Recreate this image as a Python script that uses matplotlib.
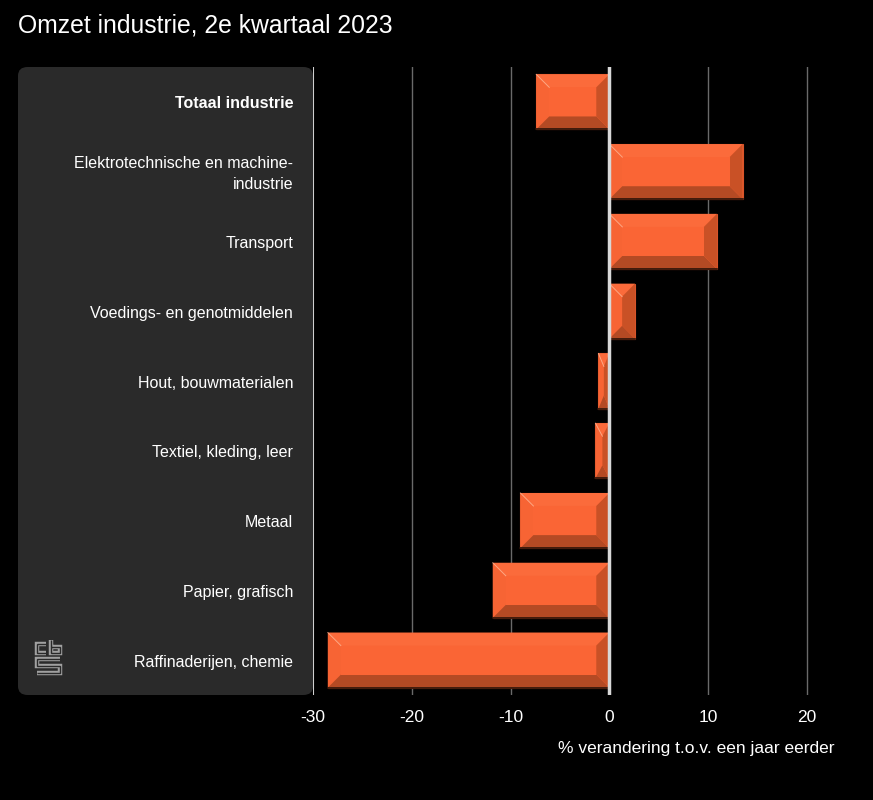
import matplotlib.pyplot as plt
from matplotlib.patches import FancyBboxPatch, Polygon
from matplotlib.lines import Line2D
import matplotlib.transforms as mtransforms

plt.rcParams['font.family'] = ['Liberation Sans', 'DejaVu Sans']

# data
categories = [
    'Totaal industrie',
    'Elektrotechnische en machine-\nindustrie',
    'Transport',
    'Voedings- en genotmiddelen',
    'Hout, bouwmaterialen',
    'Textiel, kleding, leer',
    'Metaal',
    'Papier, grafisch',
    'Raffinaderijen, chemie',
]
values = [-7.4, 13.5, 10.9, 2.6, -1.1, -1.4, -9.0, -11.8, -28.5]
ticks = [-30, -20, -10, 0, 10, 20]

W, H = 873, 800
fig = plt.figure(figsize=(W / 100, H / 100), dpi=100, facecolor='black')

# label panel on the left
panel = FancyBboxPatch((18 / W, 105 / H), (313 - 18) / W, (695 - 67) / H,
                       boxstyle='round,pad=0,rounding_size=0.011',
                       transform=fig.transFigure, facecolor='#2a2a2a',
                       edgecolor='none', zorder=-5)
fig.patches.append(panel)

ax = fig.add_axes([313 / W, 105 / H, 560 / W, 628 / H])
ax.set_zorder(2)
ax.set_facecolor('none')
ax.set_xlim(-30, 26.7)
ax.set_ylim(len(values) - 0.5, -0.5)
for s in ax.spines.values():
    s.set_visible(False)

for t in ticks:
    if t == -30:
        ax.axvline(t, color='#cfcfcf', lw=1.5, zorder=1)
    elif t != 0:
        ax.axvline(t, color='#6a6a6a', lw=1, zorder=1)

ax.set_xticks(ticks)
ax.set_xticklabels([str(t) for t in ticks])
ax.tick_params(axis='x', length=0, colors='white', labelsize=12.5, pad=11)
ax.set_yticks([])

fig.text(18 / W, 1 - 25 / H, 'Omzet industrie, 2e kwartaal 2023', color='white',
         fontsize=17.8, va='center', ha='left')
fig.text(835 / W, 1 - 748 / H, '% verandering t.o.v. een jaar eerder', color='white',
         fontsize=12.5, va='center', ha='right')

# labels, nudged 2 px down
lab_tr = ax.transData + mtransforms.ScaledTranslation(0, -2 / 100, fig.dpi_scale_trans)
for i, lab in enumerate(categories):
    ax.text(-32, i, lab, ha='right', va='center', color='white', fontsize=11.5,
            fontweight='bold' if i == 0 else 'normal', linespacing=1.5,
            clip_on=False, zorder=5, transform=lab_tr)

bar_h = 0.79
bars = ax.barh(range(len(values)), values, height=bar_h, color='#fa6535',
               edgecolor='#d9542a', linewidth=0.8, zorder=2)

# bevel effect, sized in pixels
fig.canvas.draw()
sx = ax.transData.transform((1, 0))[0] - ax.transData.transform((0, 0))[0]
sy = abs(ax.transData.transform((0, 1))[1] - ax.transData.transform((0, 0))[1])
for b in bars:
    x0, y0 = b.get_x(), b.get_y()
    w, h = b.get_width(), b.get_height()
    if w < 0:
        x0, w = x0 + w, -w
    x1, y1 = x0 + w, y0 + h
    bx = min(13, w * sx / 2) / sx
    by = min(13, h * sy / 2) / sy
    ix0, ix1 = x0 + bx, x1 - bx
    iy0, iy1 = y0 + by, y1 - by
    # y axis inverted: y0 is the top edge on screen
    sides = [
        ([(x0, y0), (x1, y0), (ix1, iy0), (ix0, iy0)], '#fb6b3b'),  # top
        ([(x0, y0), (ix0, iy0), (ix0, iy1), (x0, y1)], '#f76434'),  # left
        ([(x0, y1), (ix0, iy1), (ix1, iy1), (x1, y1)], '#b44a24'),  # bottom
        ([(x1, y0), (x1, y1), (ix1, iy1), (ix1, iy0)], '#c95126'),  # right
    ]
    for pts, c in sides:
        ax.add_patch(Polygon(pts, closed=True, facecolor=c, edgecolor='none', zorder=3))
    ax.add_patch(Polygon([(ix0, iy0), (ix1, iy0), (ix1, iy1), (ix0, iy1)], closed=True,
                         facecolor='#fa6535', edgecolor='none', zorder=3))
    ax.plot([x0, ix0], [y0, iy0], color='#ffc4a6', lw=0.7, alpha=0.7, zorder=3.5)
    ax.plot([x0, x1], [y1, y1], color='#2a1208', lw=1.2, zorder=3.5)

ax.axvline(0, color='#d8d8d8', lw=2.5, zorder=4)

# cbs logo (rough)
def seg(xs, ys):
    for c, lw in (('#a0a0a0', 3.2), ('#2a2a2a', 1.0)):
        fig.add_artist(Line2D([x / W for x in xs], [1 - y / H for y in ys],
                              color=c, lw=lw, transform=fig.transFigure,
                              solid_joinstyle='miter', solid_capstyle='butt'))
seg([46, 37, 37, 46], [644, 644, 653, 653])
seg([50.5, 50.5, 60, 60, 50.5], [640, 653, 653, 646.5, 646.5])
seg([60, 37, 37, 60, 60, 37], [659, 659, 666, 666, 673, 673])

fig.savefig('out.png', dpi=100, facecolor='black')
